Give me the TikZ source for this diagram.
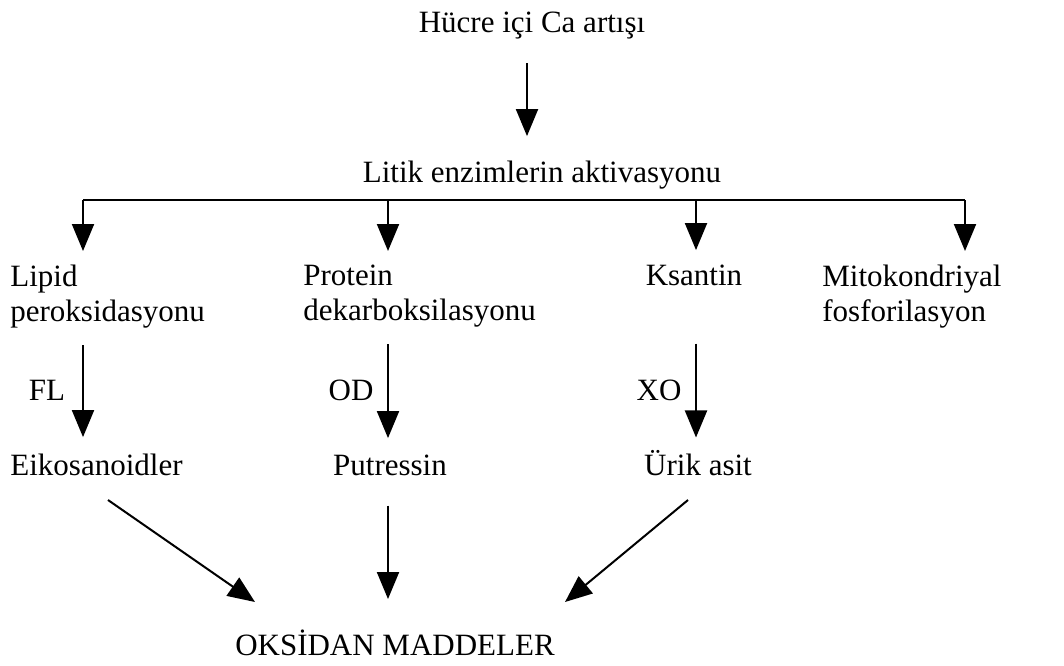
\documentclass[tikz,border=0pt]{standalone}
\usepackage{fontspec}
\setmainfont{Liberation Serif}
\usetikzlibrary{arrows.meta}
\tikzset{
	txt/.style={inner sep=0pt, font=\fontsize{15.5}{17.5}\selectfont},
	arr/.style={line width=1pt, -{Triangle[length=13.5pt, width=11pt]}}
}

\begin{document}
\begin{tikzpicture}[x=0.5pt, y=-0.5pt]
			%%%%% START %%%%%
			\useasboundingbox (0, 0) rectangle (1064, 665);
			
			\coordinate (k0) at (527, 0);
			\coordinate (k1) at (83, 0);
			\coordinate (k2) at (388, 0);
			\coordinate (k3) at (696, 0);
			\coordinate (k4) at (965, 0);
			\coordinate (bar) at (0, 200);
			
			\node[txt, anchor=base] (hucre) at (532, 32) {Hücre içi Ca artışı};
			\node[txt, anchor=base] (litik) at (542, 182) {Litik enzimlerin aktivasyonu};
			\draw[arr, shorten <=12pt, shorten >=12pt] (hucre.south -| k0) -- (litik.north -| k0);
			
			\draw[line width=1pt] (bar -| k1) -- (bar -| k4);
			
			\node[txt, anchor=north west, align=left] (lipid) at (10, 265) {Lipid\\peroksidasyonu};
			\node[txt, anchor=north west, align=left] (protein) at (303, 265) {Protein\\dekarboksilasyonu};
			\node[txt, anchor=base] (ksantin) at (694, 285) {Ksantin};
			\node[txt, anchor=north west, align=left] (mito) at (822, 265) {Mitokondriyal\\fosforilasyon};
			
			\draw[arr, shorten >=7pt] (bar -| k1) -- (lipid.north -| k1);
			\draw[arr, shorten >=7pt] (bar -| k2) -- (protein.north -| k2);
			\draw[arr, shorten >=7pt] (bar -| k3) -- (ksantin.north -| k3);
			\draw[arr, shorten >=7pt] (bar -| k4) -- (mito.north -| k4);
			
			\node[txt, anchor=base west] (eiko) at (10, 475) {Eikosanoidler};
			\node[txt, anchor=base] (putressin) at (390, 475) {Putressin};
			\node[txt, anchor=base] (urik) at (698, 475) {Ürik asit};
			
			\node[txt, anchor=base] (fl) at (47, 400) {FL};
			\node[txt, anchor=base] (od) at (351, 400) {OD};
			\node[txt, anchor=base] (xo) at (659, 400) {XO};
			
			\draw[arr, shorten <=8pt, shorten >=8pt] (lipid.south -| k1) -- (eiko.north -| k1);
			\draw[arr, shorten <=8pt, shorten >=8pt] (protein.south -| k2) -- (putressin.north -| k2);
			\draw[arr, shorten <=29pt, shorten >=6pt] (ksantin.south -| k3) -- (urik.north -| k3);
			
			\node[txt, anchor=base] (oksidan) at (395, 655) {OKSİDAN MADDELER};
			
			\coordinate (s1) at (108, 500);
			\coordinate (t1) at (255, 602);
			\coordinate (s3) at (688, 500);
			\coordinate (t3) at (565, 602);
			\draw[arr] (s1) -- (t1);
			\draw[arr, shorten <=15pt, shorten >=15pt] (putressin.south -| k2) -- (oksidan.north -| k2);
			\draw[arr] (s3) -- (t3);
			%%%%% END %%%%%
\end{tikzpicture}
\end{document}
